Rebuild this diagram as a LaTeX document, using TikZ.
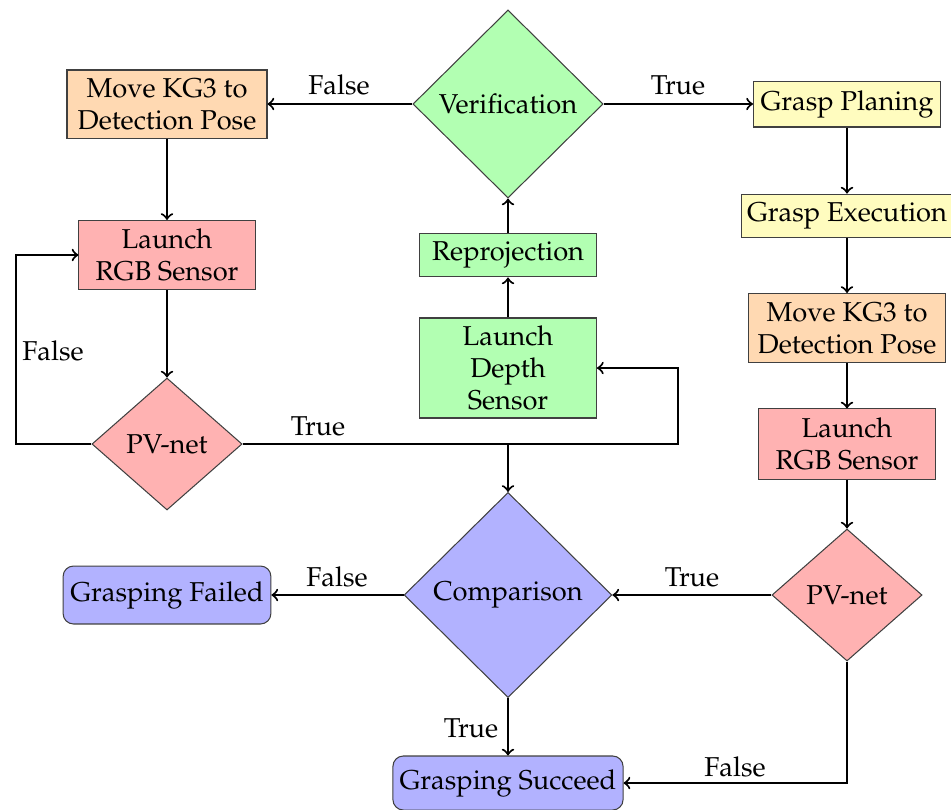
\documentclass[tikz,border=0pt]{standalone}
\usepackage[T1]{fontenc}
\usepackage{mathpazo}
\usetikzlibrary{shapes.geometric}
\tikzset{
  base/.style={draw=black!75, line width=0.4pt, align=center, inner sep=2pt},
  boxnode/.style={base, rectangle},
  decision/.style={base, diamond, inner sep=0pt},
  endnode/.style={base, rectangle, rounded corners=4pt},
  conn/.style={->, line width=0.8pt},
  lbl/.style={inner sep=1pt},
}
\begin{document}
\begin{tikzpicture}[x=0.385pt,y=-0.385pt, every node/.append style={font=\fontsize{10.5}{12.4}\selectfont}]
\path[use as bounding box] (0,0) rectangle (951,809);
% nodes
\node[decision, fill=green!30, minimum width=73.2pt, minimum height=72.4pt] (ver) at (508,104) {Verification};
\node[boxnode, fill=orange!30, minimum width=77pt, minimum height=26.2pt] (moveL) at (167,104) {Move KG3 to\\Detection Pose};
\node[boxnode, fill=yellow!25, minimum width=72pt, minimum height=17.7pt] (plan) at (847,104) {Grasp Planing};
\node[boxnode, fill=red!30, minimum width=67.8pt, minimum height=26.6pt] (launchL) at (167,255) {Launch\\RGB Sensor};
\node[boxnode, fill=green!30, minimum width=68.1pt, minimum height=16.9pt] (reproj) at (508,255) {Reprojection};
\node[boxnode, fill=green!30, minimum width=68.1pt, minimum height=38.5pt] (depth) at (508,368) {Launch\\Depth\\Sensor};
\node[boxnode, fill=yellow!25, minimum width=80.5pt, minimum height=16.9pt] (exec) at (847,216) {Grasp Execution};
\node[boxnode, fill=orange!30, minimum width=75.5pt, minimum height=26.6pt] (moveR) at (847,328) {Move KG3 to\\Detection Pose};
\node[boxnode, fill=red!30, minimum width=68.1pt, minimum height=27pt] (launchR) at (847,444) {Launch\\RGB Sensor};
\node[decision, fill=red!30, minimum width=57.8pt, minimum height=50.8pt] (pvL) at (167,444) {PV-net};
\node[decision, fill=red!30, minimum width=57.8pt, minimum height=50.8pt] (pvR) at (847,595) {PV-net};
\node[decision, fill=blue!30, minimum width=80pt, minimum height=79pt] (comp) at (508,595) {Comparison};
\node[endnode, fill=blue!30, minimum width=80pt, minimum height=22.3pt] (fail) at (167,595) {Grasping Failed};
\node[endnode, fill=blue!30, minimum width=88.6pt, minimum height=20.8pt] (succ) at (508,783) {Grasping Succeed};
% helper coordinates
\coordinate (lw) at (16,444);
\coordinate (rr) at (678,444);
\coordinate (br) at (508,444);
% connectors
\draw[conn] (ver.west) -- (moveL.east);
\draw[conn] (ver.east) -- (plan.west);
\draw[conn] (moveL.south) -- (launchL.north);
\draw[conn] (launchL.south) -- (pvL.north);
\draw[conn] (pvL.west) -- (lw) |- (launchL.west);
\draw[conn] (pvL.east) -- (rr) |- (depth.east);
\draw[conn] (br) -- (comp.north);
\draw[conn] (depth.north) -- (reproj.south);
\draw[conn] (reproj.north) -- (ver.south);
\draw[conn] (plan.south) -- (exec.north);
\draw[conn] (exec.south) -- (moveR.north);
\draw[conn] (moveR.south) -- (launchR.north);
\draw[conn] (launchR.south) -- (pvR.north);
\draw[conn] (pvR.west) -- (comp.east);
\draw[conn] (pvR.south) |- (succ.east);
\draw[conn] (comp.west) -- (fail.east);
\draw[conn] (comp.south) -- (succ.north);
% labels
\node[lbl] (l1) at (339,85) {False};
\node[lbl] (l2) at (678,85) {True};
\node[lbl] (l3) at (53,351) {False};
\node[lbl] (l4) at (318,426) {True};
\node[lbl] (l5) at (692,577) {True};
\node[lbl] (l6) at (337,577) {False};
\node[lbl] (l7) at (471,728) {True};
\node[lbl] (l8) at (735,767) {False};
\end{tikzpicture}
\end{document}
